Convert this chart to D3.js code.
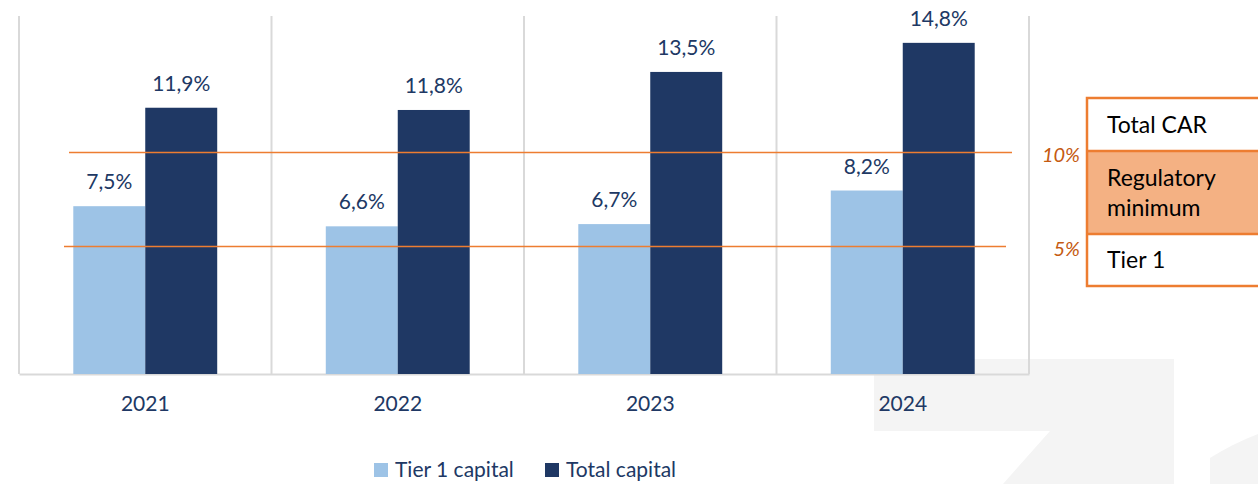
<!DOCTYPE html>
<html>
<head>
<meta charset="utf-8">
<script src="https://cdn.jsdelivr.net/npm/d3@7"></script>
<style>
  body { margin: 0; background: #fff; }
  svg { display: block; font-family: Lato, "Open Sans", sans-serif; }
</style>
</head>
<body>
<div id="chart"></div>
<script>
// data
const years = ["2021", "2022", "2023", "2024"];
const tier1 = [7.5, 6.6, 6.7, 8.2];
const total = [11.9, 11.8, 13.5, 14.8];
const seriesNames = ["Tier 1 capital", "Total capital"];
const seriesColors = ["#9DC3E6", "#1F3864"];
// orange reference lines (positions)
const refLabels = ["10%", "5%"];
const refValues = [9.9, 5.7];
const boxRows = [["Total CAR"], ["Regulatory", "minimum"], ["Tier 1"]];

const width = 1258, height = 484;
const margin = { top: 16, left: 19, right: 229, bottom: 110 };
const baseY = height - margin.bottom; // 374

const svg = d3.select("#chart").append("svg")
  .attr("width", width).attr("height", height);

// faint watermark in background
svg.append("path")
  .attr("d", "M874,359 L1174,359 L1174,484 L1003,484 L1050,431 L874,431 Z")
  .attr("fill", "#F4F4F4");
svg.append("path")
  .attr("d", "M1210,458 Q1232,444 1258,434 L1258,484 L1210,484 Z")
  .attr("fill", "#F4F4F4");

const x = d3.scaleBand().domain(years).range([margin.left, width - margin.right]);
const bw = x.bandwidth();
const x1 = d3.scaleBand().domain(seriesNames).range([bw * 0.215, bw * 0.785]);
const y = d3.scaleLinear().domain([0, 16]).range([baseY, margin.top]);

// vertical separators
const grid = years.map(d => x(d)).concat([x(years[years.length - 1]) + bw]);
svg.append("g").selectAll("line").data(grid).enter().append("line")
  .attr("x1", d => d).attr("x2", d => d)
  .attr("y1", y(16)).attr("y2", baseY)
  .attr("stroke", "#D9D9D9").attr("stroke-width", 2);

// baseline axis
const xAxis = d3.axisBottom(x).tickSize(0).tickPadding(22);
const gx = svg.append("g")
  .attr("transform", "translate(0," + baseY + ")")
  .call(xAxis);
gx.select(".domain").attr("stroke", "#D9D9D9").attr("stroke-width", 2);
gx.selectAll("text")
  .style("font-size", "21px")
  .style("font-family", "Lato, sans-serif")
  .attr("fill", "#203864");

// bars
const rows = years.map((yr, i) => ({ year: yr, values: [tier1[i], total[i]] }));
const groups = svg.append("g").selectAll("g").data(rows).enter().append("g")
  .attr("transform", d => "translate(" + x(d.year) + ",0)");

groups.selectAll("rect")
  .data(d => d.values.map((v, j) => ({ name: seriesNames[j], value: v, j: j })))
  .enter().append("rect")
  .attr("x", d => x1(d.name))
  .attr("width", x1.bandwidth())
  .attr("y", d => y(d.value))
  .attr("height", d => baseY - y(d.value))
  .attr("fill", d => seriesColors[d.j]);

groups.selectAll("text.lbl")
  .data(d => d.values.map((v, j) => ({ name: seriesNames[j], value: v })))
  .enter().append("text")
  .attr("class", "lbl")
  .attr("x", d => x1(d.name) + x1.bandwidth() / 2)
  .attr("y", d => y(d.value) - 17)
  .attr("text-anchor", "middle")
  .style("font-size", "21px")
  .attr("fill", "#203864")
  .text(d => d.value.toFixed(1).replace(".", ",") + "%");

// orange reference lines
const lineStarts = [69, 64];
const lineEnds = [1012, 1006];
svg.append("g").selectAll("line").data(refValues).enter().append("line")
  .attr("x1", (d, i) => lineStarts[i]).attr("x2", (d, i) => lineEnds[i])
  .attr("y1", d => y(d)).attr("y2", d => y(d))
  .attr("stroke", "#ED7D31").attr("stroke-width", 1.5);

svg.append("g").selectAll("text").data(refValues).enter().append("text")
  .attr("x", 1080)
  .attr("y", d => y(d) + 10)
  .attr("text-anchor", "end")
  .style("font-size", "20px")
  .style("font-style", "italic")
  .attr("fill", "#C55A11")
  .text((d, i) => refLabels[i]);

// right-hand box
const boxX = 1087;
const rowY = [98, 151, 234, 286];
const box = svg.append("g");
box.append("rect").attr("x", boxX).attr("y", rowY[1])
  .attr("width", width - boxX + 5).attr("height", rowY[2] - rowY[1])
  .attr("fill", "#F4B183");
box.append("rect").attr("x", boxX).attr("y", rowY[0])
  .attr("width", width - boxX + 5).attr("height", rowY[3] - rowY[0])
  .attr("fill", "none").attr("stroke", "#ED7D31").attr("stroke-width", 2.5);
[rowY[1], rowY[2]].forEach(yy => {
  box.append("line").attr("x1", boxX).attr("x2", width + 5)
    .attr("y1", yy).attr("y2", yy)
    .attr("stroke", "#ED7D31").attr("stroke-width", 2.5);
});
const textBase = [[133], [186, 216], [268]];
boxRows.forEach((lines, i) => {
  lines.forEach((t, k) => {
    box.append("text").attr("x", 1107).attr("y", textBase[i][k])
      .style("font-size", "23px").attr("fill", "#000").text(t);
  });
});

// legend
const legendX = [374, 545];
const legend = svg.append("g").selectAll("g").data(seriesNames).enter().append("g")
  .attr("transform", (d, i) => "translate(" + legendX[i] + ",463)");
legend.append("rect").attr("width", 14).attr("height", 14)
  .attr("fill", (d, i) => seriesColors[i]);
legend.append("text").attr("x", 21).attr("y", 14)
  .style("font-size", "21px").attr("fill", "#203864")
  .text(d => d);
</script>
</body>
</html>
